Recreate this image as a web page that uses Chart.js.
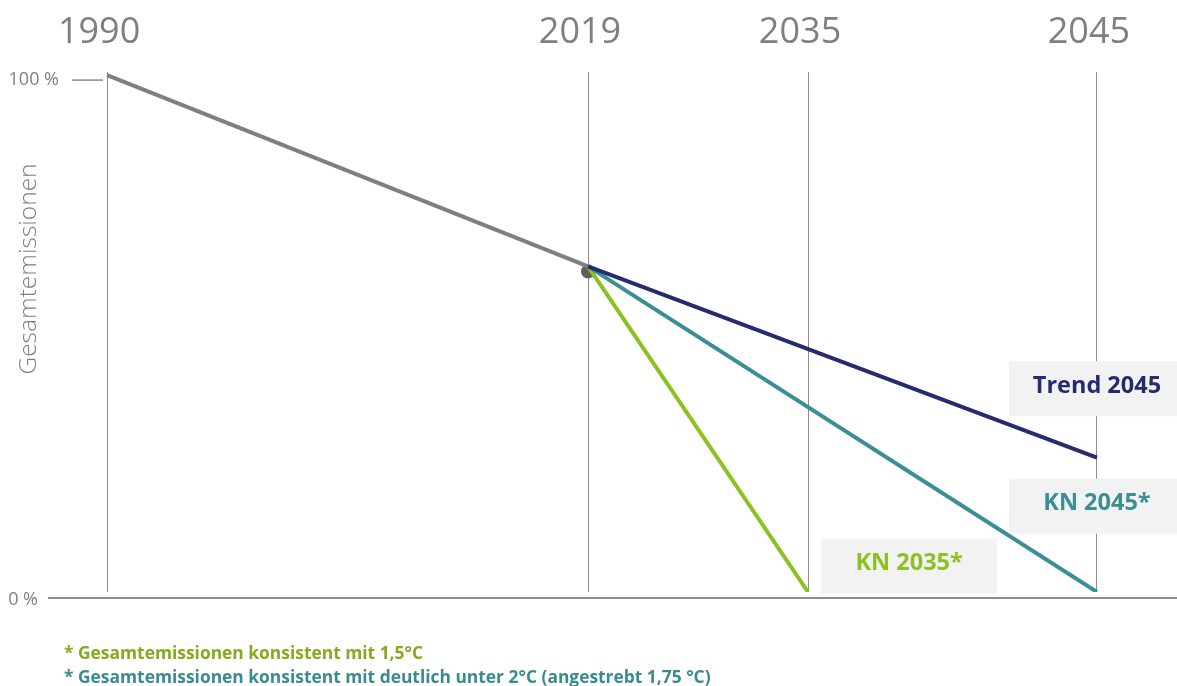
<!DOCTYPE html>
<html lang="de">
<head>
<meta charset="utf-8">
<script src="https://cdn.jsdelivr.net/npm/chart.js@4.4.1/dist/chart.umd.min.js"></script>
<style>
  html, body { margin: 0; padding: 0; background: #fff; }
  #wrap { position: relative; width: 1177px; height: 686px; }
  .note { position: absolute; left: 64px; font: bold 17.4px 'Open Sans', sans-serif; white-space: nowrap; }
</style>
</head>
<body>
<div id="wrap">
  <canvas id="emissionsChart" width="1177" height="686"></canvas>
  <div class="note" style="top:640px;color:#86aa1e">* Gesamtemissionen konsistent mit 1,5°C</div>
  <div class="note" style="top:664px;color:#3a8b8f">* Gesamtemissionen konsistent mit deutlich unter 2°C (angestrebt 1,75 °C)</div>
</div>
<script>
// data (values in % of 1990 emissions)
const years = [1990, 2019, 2035, 2045];
const historicYears = [1990, 2019];
const historicValues = [100, 63];
const trendYears = [2019, 2045];
const trendValues = [63, 26];
const kn2045Years = [2019, 2045];
const kn2045Values = [63, 0];
const kn2035Years = [2019, 2035];
const kn2035Values = [63, 0];
const lastMeasuredYear = [2019];
const lastMeasuredValue = [62];
const yTicks = [0, 100];

// the time axis is schematic: each year sits at a fixed share of the plot width
const axisFractions = [0.0523, 0.4783, 0.6732, 0.9291];

const boxLabels = [
  { text: 'Trend 2045', year: 2045, value: 39.4, color: '#272a6f' },
  { text: 'KN 2045*', year: 2045, value: 16.7, color: '#3a8e94' },
  { text: 'KN 2035*', year: 2038.5, value: 5.1, color: '#8cc220' }
];

const grey = '#7f7f7f';
const pts = (xs, ys) => xs.map((x, i) => ({ x, y: ys[i] }));

class SchematicScale extends Chart.LinearScale {
  getPixelForValue(v) {
    let i = 0;
    while (i < years.length - 2 && v > years[i + 1]) i++;
    const f = axisFractions[i] + (v - years[i]) / (years[i + 1] - years[i]) * (axisFractions[i + 1] - axisFractions[i]);
    return this.getPixelForDecimal(f);
  }
  getValueForPixel(p) {
    const d = this.getDecimalForPixel(p);
    let i = 0;
    while (i < axisFractions.length - 2 && d > axisFractions[i + 1]) i++;
    return years[i] + (d - axisFractions[i]) / (axisFractions[i + 1] - axisFractions[i]) * (years[i + 1] - years[i]);
  }
}
SchematicScale.id = 'schematic';
SchematicScale.defaults = {};
Chart.register(SchematicScale);

const decor = {
  id: 'decor',
  beforeDatasetsDraw(chart) {
    const { ctx, chartArea: a, scales: { y } } = chart;
    ctx.save();
    ctx.strokeStyle = '#8c8c8c';
    ctx.lineWidth = 2;
    ctx.beginPath();
    ctx.moveTo(48, a.bottom + 6);
    ctx.lineTo(chart.width, a.bottom + 6);
    ctx.stroke();

    ctx.fillStyle = grey;
    ctx.font = "18px 'Open Sans'";
    ctx.textBaseline = 'middle';
    ctx.textAlign = 'right';
    yTicks.forEach(v => {
      if (v === 100) {
        const py = y.getPixelForValue(v) + 5;
        ctx.lineWidth = 1.5;
        ctx.beginPath();
        ctx.moveTo(72, py);
        ctx.lineTo(103, py);
        ctx.stroke();
        ctx.fillText(v + ' %', 59, py);
      } else {
        ctx.fillText(v + ' %', 38, a.bottom + 8);
      }
    });

    ctx.translate(29, 269);
    ctx.rotate(-Math.PI / 2);
    ctx.textAlign = 'center';
    ctx.font = "300 24.5px 'Open Sans'";
    ctx.fillText('Gesamtemissionen', 0, 0);
    ctx.restore();
  },
  afterDatasetsDraw(chart) {
    const { ctx, scales: { x, y } } = chart;
    ctx.save();
    ctx.textAlign = 'center';
    ctx.textBaseline = 'middle';
    ctx.font = "bold 23.5px 'Open Sans'";
    boxLabels.forEach(b => {
      const cx = x.getPixelForValue(b.year), cy = y.getPixelForValue(b.value);
      ctx.fillStyle = '#f2f2f2';
      ctx.fillRect(cx - 88, cy - 27, 176, 55);
      ctx.fillStyle = b.color;
      ctx.fillText(b.text, cx, cy - 2);
    });
    ctx.restore();
  }
};

new Chart(document.getElementById('emissionsChart').getContext('2d'), {
  type: 'line',
  data: {
    datasets: [
      { label: '1990–2019', data: pts(historicYears, historicValues), borderColor: grey },
      { label: 'Trend 2045', data: pts(trendYears, trendValues), borderColor: '#272a6f' },
      { label: 'KN 2045*', data: pts(kn2045Years, kn2045Values), borderColor: '#3a8e94' },
      { label: 'KN 2035*', data: pts(kn2035Years, kn2035Values), borderColor: '#8cc220' },
      { label: '2019', data: pts(lastMeasuredYear, lastMeasuredValue), showLine: false,
        pointRadius: 7, pointBackgroundColor: '#5f5f5f', pointBorderWidth: 0, order: 10 }
    ]
  },
  options: {
    responsive: false,
    animation: false,
    elements: {
      line: { borderWidth: 4, tension: 0, borderCapStyle: 'butt', fill: false },
      point: { radius: 0 }
    },
    layout: { autoPadding: false, padding: { left: 48, right: 0, top: 0, bottom: 94 } },
    plugins: { legend: { display: false }, tooltip: { enabled: false } },
    scales: {
      x: {
        type: 'schematic',
        position: 'top',
        min: 1990,
        max: 2045,
        afterBuildTicks: s => { s.ticks = years.map(v => ({ value: v })); },
        afterFit: s => { s.height = 72; s.paddingLeft = 0; s.paddingRight = 0; },
        border: { display: false },
        grid: { color: '#8c8c8c', lineWidth: 1, drawTicks: false },
        ticks: {
          callback: v => String(v),
          color: grey,
          font: { family: "'Open Sans'", size: 36 },
          padding: 18,
          labelOffset: -8,
          maxRotation: 0,
          autoSkip: false
        }
      },
      y: { display: false, min: 0, max: 100.6 }
    }
  },
  plugins: [decor]
});
</script>
</body>
</html>
